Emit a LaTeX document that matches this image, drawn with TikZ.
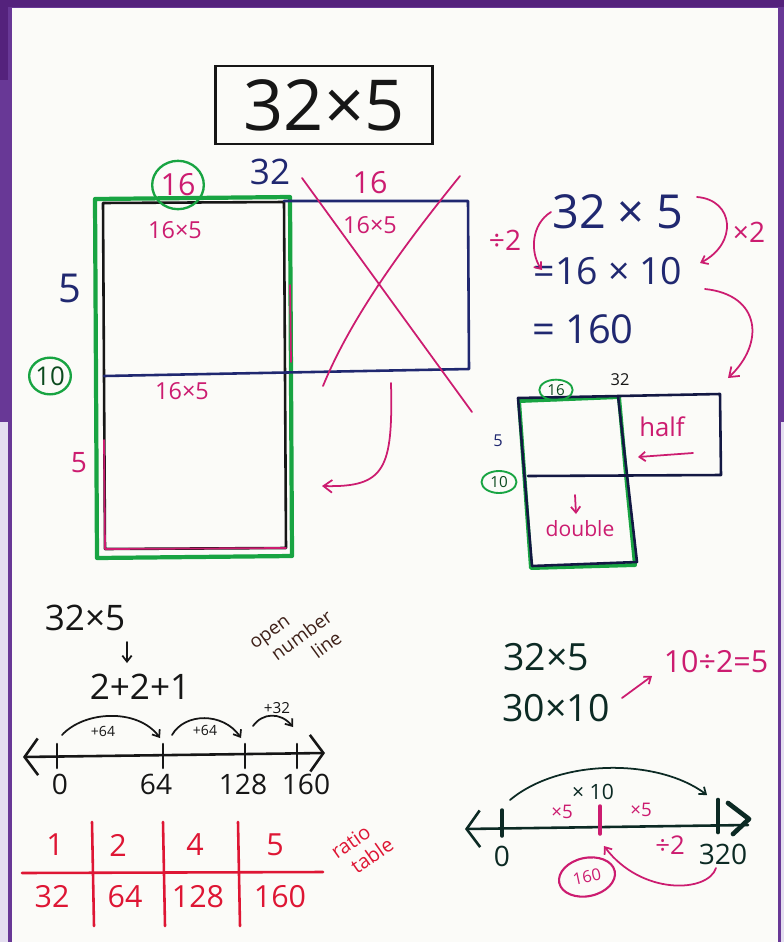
\documentclass[tikz,border=0pt]{standalone}
\usepackage{fontspec}
\setmainfont{Open Sans}
\usetikzlibrary{calc,arrows.meta,bending,shapes.geometric}
\definecolor{frameDark}{RGB}{84,34,124}
\definecolor{framePurple}{RGB}{104,56,150}
\definecolor{frameLilac}{RGB}{228,222,240}
\definecolor{boardWhite}{RGB}{251,251,248}
\definecolor{penNavy}{RGB}{32,40,112}
\definecolor{penPink}{RGB}{204,28,112}
\definecolor{penGreen}{RGB}{24,164,66}
\definecolor{penBlack}{RGB}{22,22,22}
\definecolor{penRed}{RGB}{222,22,52}
\definecolor{penTeal}{RGB}{12,42,36}
\definecolor{penBrown}{RGB}{62,32,24}
\newcommand{\PenSize}[1]{\fontsize{#1}{#1}\selectfont}

\begin{document}
\begin{tikzpicture}[x=0.03cm,y=-0.03cm,
  marker/.style={line width=2.2pt,line cap=round,line join=round},
  fine marker/.style={line width=1.5pt,line cap=round,line join=round},
  barb/.style={-{Straight Barb[length=2.6mm,width=3.8mm]}},
  small barb/.style={-{Straight Barb[length=1.8mm,width=2.8mm]}},
  word/.style={inner sep=0pt},
  ring/.style={draw=penGreen,line width=2pt,ellipse,inner sep=0pt}]
\useasboundingbox (0,0) rectangle (784,942);
\fill[framePurple] (0,0) rectangle (784,942);
\fill[frameDark] (0,0) rectangle (784,7);
\fill[frameDark] (0,0) rectangle (8,80);
\fill[frameLilac] (0,422) rectangle (8,942);
\fill[frameLilac] (781,422) rectangle (784,942);
\fill[boardWhite] (12,8) rectangle (778,942);

\node[draw=penBlack,line width=2.2pt,minimum width=6.5cm,minimum height=2.35cm,
      font=\PenSize{60},text=penBlack] (title) at (324,105) {32×5};

% area model, cut in half and moved
\draw[penGreen,line width=3.6pt,line join=round] (95,199) -- (290,197) -- (292,556) -- (97,558) -- cycle;
\draw[penBlack,marker] (103,203) -- (284,202) -- (286,548) -- (105,549) -- cycle;
\draw[penNavy,marker] (284,201) -- (468,201) -- (469,369) -- (104,376);
\draw[penPink,fine marker] (104,440) -- (105,549) -- (286,548);
\draw[penPink,fine marker] (290,285) -- (291,362);
\draw[penPink,fine marker] (302,178) -- (472,412);
\draw[penPink,fine marker] (460,176) .. controls (400,250) and (350,320) .. (323,386);
\node[ring,minimum width=1.55cm,minimum height=1.45cm,text=penPink,font=\PenSize{26}] (halfTop) at (178,185) {16};
\node[word,text=penNavy,font=\PenSize{30}] (longSide) at (270,172) {32};
\node[word,text=penPink,font=\PenSize{26}] (cutSide) at (370,183) {16};
\node[word,text=penPink,font=\PenSize{20}] (partA) at (175,230) {16×5};
\node[word,text=penPink,font=\PenSize{20}] (partB) at (370,225) {16×5};
\node[word,text=penPink,font=\PenSize{20}] (partC) at (182,391) {16×5};
\node[word,text=penNavy,font=\PenSize{34}] (shortSide) at (70,288) {5};
\node[ring,minimum width=1.15cm,minimum height=1.1cm,text=penGreen!45!black,font=\PenSize{22}] (doubleSide) at (50,376) {10};
\node[word,text=penPink,font=\PenSize{24}] (lowSide) at (79,463) {5};
\coordinate (moveFrom) at (391,383);
\coordinate (moveTo) at (322,486);
\draw[penPink,fine marker,barb] (moveFrom) .. controls (393,470) and (385,488) .. (moveTo);

% halving and doubling
\node[word,text=penNavy,font=\PenSize{40}] (eqTop) at (618,212) {32 × 5};
\node[word,text=penNavy,font=\PenSize{32}] (eqMid) at (608,271) {=16 × 10};
\node[word,text=penNavy,font=\PenSize{34}] (eqEnd) at (583,329) {= 160};
\node[word,text=penPink,font=\PenSize{24}] (halve) at (505,240) {÷2};
\node[word,text=penPink,font=\PenSize{24}] (twice) at (749,232) {×2};
\coordinate (halveFrom) at (551,212);
\coordinate (halveTo) at (542,270);
\coordinate (twiceFrom) at (697,197);
\coordinate (twiceTo) at (700,263);
\coordinate (jumpFrom) at (705,289);
\coordinate (jumpTo) at (728,378);
\draw[penPink,fine marker,small barb] (halveFrom) .. controls (530,225) and (530,255) .. (halveTo);
\draw[penPink,fine marker,small barb] (twiceFrom) .. controls (735,200) and (738,245) .. (twiceTo);
\draw[penPink,fine marker,barb] (jumpFrom) .. controls (762,295) and (765,345) .. (jumpTo);

\draw[penGreen,line width=3.4pt,line join=round] (519,401) -- (619,397) -- (626,475) -- (635,565) -- (531,568) -- cycle;
\draw[penNavy!60!black,marker] (518,398) -- (720,394) -- (721,475) -- (528,476);
\draw[penNavy!60!black,marker] (618,396) -- (637,562) -- (532,566) -- (518,398);
\node[ring,line width=1.6pt,minimum width=1.0cm,minimum height=0.62cm,text=penGreen!45!black,font=\PenSize{13}] (smallHalf) at (556,390) {16};
\node[word,text=penBlack,font=\PenSize{14}] (smallLong) at (620,380) {32};
\node[word,text=penNavy,font=\PenSize{14}] (smallShort) at (498,441) {5};
\node[ring,line width=1.6pt,minimum width=1.05cm,minimum height=0.66cm,text=penGreen!45!black,font=\PenSize{13}] (smallDouble) at (499,482) {10};
\node[word,text=penPink,font=\PenSize{22}] (halfWord) at (662,427) {half};
\node[word,text=penPink,font=\PenSize{18}] (doubleWord) at (580,529) {double};
\coordinate (halfFrom) at (693,453);
\coordinate (halfTo) at (638,457);
\coordinate (doubleFrom) at (575,495);
\coordinate (doubleTo) at (576,514);
\draw[penPink,fine marker,small barb] (halfFrom) -- (halfTo);
\draw[penPink,fine marker,small barb] (doubleFrom) -- (doubleTo);

% open number line
\node[word,text=penBlack,font=\PenSize{30}] (sumTask) at (85,618) {32×5};
\node[word,text=penBlack,font=\PenSize{30}] (sumSplit) at (140,687) {2+2+1};
\coordinate (splitFrom) at (127,642);
\coordinate (splitTo) at (127,663);
\draw[penBlack,fine marker,small barb] (splitFrom) -- (splitTo);
\node[word,text=penBrown,font=\fontsize{16}{19}\selectfont,align=left,rotate=36] (openName) at (298,640)
  {open\\\hspace{0.6em}number\\\hspace{2.4em}line};
\coordinate (lineA) at (23,757);
\coordinate (lineB) at (325,753);
\draw[penBlack,marker,{Straight Barb[length=4mm,width=11mm]}-{Straight Barb[length=4mm,width=11mm]}] (lineA) -- (lineB);
\foreach \t in {57,163,245,297}
  \draw[penBlack,marker] (\t,744) -- (\t,768);
\foreach \v/\x in {0/60,64/156,128/243,160/306}
  \node[word,text=penBlack,font=\PenSize{24}] (mark\v) at (\x,784) {\v};
\draw[penBlack,fine marker,small barb] (62,735) .. controls (85,710) and (140,708) .. (160,738);
\draw[penBlack,fine marker,small barb] (172,735) .. controls (185,712) and (225,712) .. (241,738);
\draw[penBlack,fine marker,small barb] (253,726) .. controls (263,712) and (282,712) .. (293,727);
\node[word,text=penBlack,font=\PenSize{12}] (hopA) at (103,731) {+64};
\node[word,text=penBlack,font=\PenSize{12}] (hopB) at (205,730) {+64};
\node[word,text=penBlack,font=\PenSize{13}] (hopC) at (277,708) {+32};

% ratio table
\draw[penRed,marker] (22,873) -- (323,872);
\foreach \x in {92,163,238}
  \draw[penRed,marker] (\x,822) -- (\x+2,926);
\foreach \v/\x in {1/55,2/118,4/195,5/275}
  \node[word,text=penRed,font=\PenSize{26}] (top\v) at (\x,845) {\v};
\foreach \v/\x in {32/52,64/125,128/198,160/280}
  \node[word,text=penRed,font=\PenSize{26}] (low\v) at (\x,897) {\v};
\node[word,text=penRed,font=\fontsize{17}{20}\selectfont,align=left,rotate=35] (ratioName) at (362,848)
  {ratio\\\hspace{0.4em}table};

% compensation
\node[word,text=penTeal,font=\PenSize{32}] (compTask) at (546,657) {32×5};
\node[word,text=penTeal,font=\PenSize{32}] (compNear) at (556,708) {30×10};
\node[word,text=penPink,font=\PenSize{26}] (compNote) at (716,662) {10÷2=5};
\coordinate (noteFrom) at (622,698);
\coordinate (noteTo) at (652,676);
\draw[penPink,fine marker,small barb] (noteFrom) -- (noteTo);
\coordinate (rightA) at (465,829);
\coordinate (rightB) at (748,825);
\draw[penTeal,marker,{Straight Barb[length=4mm,width=11mm]}-] (rightA) -- (rightB);
\draw[penTeal,line width=4pt,line cap=round,line join=round] (728,803) -- (749,819) -- (733,834);
\draw[penTeal,line width=4pt,line cap=round] (718,800) -- (718,832);
\draw[penTeal,line width=3pt,line cap=round] (502,810) -- (502,836);
\draw[penPink,line width=3pt,line cap=round] (600,806) -- (600,834);
\node[word,text=penTeal,font=\PenSize{24}] (zeroMark) at (502,856) {0};
\node[word,text=penTeal,font=\PenSize{24}] (topMark) at (723,854) {320};
\node[word,text=penPink,font=\PenSize{22}] (halveMark) at (670,845) {÷2};
\draw[penTeal,fine marker,small barb] (510,800) .. controls (560,758) and (660,758) .. (707,795);
\node[word,text=penTeal,font=\PenSize{18}] (tenTimes) at (593,792) {× 10};
\node[word,text=penPink,font=\PenSize{16}] (fiveA) at (562,812) {×5};
\node[word,text=penPink,font=\PenSize{16}] (fiveB) at (641,810) {×5};
\node[draw=penPink,line width=1.8pt,ellipse,minimum width=1.7cm,minimum height=1.15cm,
      inner sep=0pt,rotate=12,text=penPink,font=\PenSize{14}] (midMark) at (587,877) {160};
\coordinate (backFrom) at (716,868);
\coordinate (backTo) at (604,846);
\draw[penPink,fine marker,small barb] (backFrom) .. controls (708,893) and (640,896) .. (backTo);
\end{tikzpicture}
\end{document}
